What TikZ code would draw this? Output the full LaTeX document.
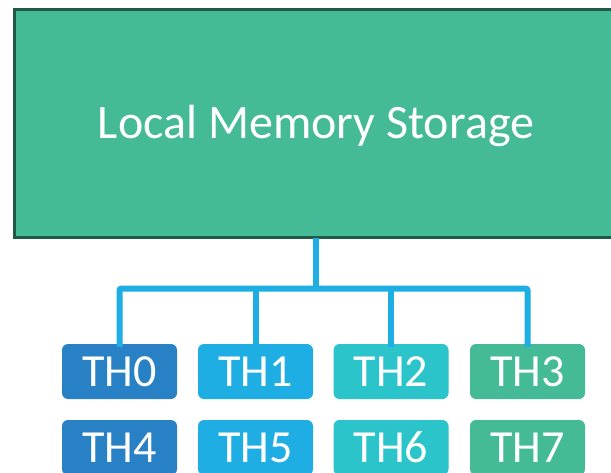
\documentclass[tikz,border=0pt]{standalone}
\usepackage{fontspec}
\setmainfont{Carlito}
\definecolor{storefill}{HTML}{45BA96}
\definecolor{storeedge}{HTML}{1E5A45}
\definecolor{wire}{HTML}{1FAEE3}
\definecolor{thA}{HTML}{2981C5}
\definecolor{thB}{HTML}{1FAEE3}
\definecolor{thC}{HTML}{2BC4CA}
\definecolor{thD}{HTML}{45BA96}
\tikzset{
  thread/.style={rounded corners=6pt, minimum width=115pt, minimum height=55pt,
    inner sep=0pt, text=white, font=\fontsize{46}{46}\selectfont},
  threadtext/.style={inner sep=0pt, text=white, font=\fontsize{46}{46}\selectfont},
  link/.style={draw=wire, line width=6pt},
}
\begin{document}
\begin{tikzpicture}[x=1pt,y=-1pt]
  \useasboundingbox (0,0) rectangle (611,472);
  \begin{scope}
    \clip (0,0) rectangle (611,472);
    % shared memory block
    \node[draw=storeedge, line width=3pt, fill=storefill, minimum width=606pt,
      minimum height=228pt, inner sep=0pt, anchor=north west] (mem) at (13,8) {};
    \node[text=white, font=\fontsize{48}{48}\selectfont] (label) at (316,126) {Local Memory Storage};
    % first row of threads
    \node[thread, fill=thA] (t0) at (119.5,371.5) {TH0};
    \node[thread, fill=thB] (t1) at (255.5,371.5) {TH1};
    \node[thread, fill=thC] (t2) at (391,371.5) {TH2};
    \node[thread, fill=thD] (t3) at (527.5,371.5) {TH3};
    % second row: tiles run past the lower edge, labels sit inside
    \foreach \x/\c in {119.5/thA, 255.5/thB, 391/thC, 527.5/thD}
      \fill[\c, rounded corners=6pt] (\x-57.5,420) rectangle (\x+57.5,475);
    \node[threadtext] (t4) at (119.5,447.5) {TH4};
    \node[threadtext] (t5) at (255.5,447.5) {TH5};
    \node[threadtext] (t6) at (391,447.5) {TH6};
    \node[threadtext] (t7) at (527.5,447.5) {TH7};
    % bus from memory to first-row threads
    \coordinate (hub) at (316,288.5);
    \draw[link] (mem.south -| hub) ++(0,-1.5) -- (hub);
    \draw[link, rounded corners=2pt] ([yshift=-3pt]t0.north) |- (hub) -| ([yshift=-3pt]t3.north);
    \draw[link] ([yshift=-3pt]t1.north) -- (t1.north |- hub);
    \draw[link] ([yshift=-3pt]t2.north) -- (t2.north |- hub);
  \end{scope}
\end{tikzpicture}
\end{document}
